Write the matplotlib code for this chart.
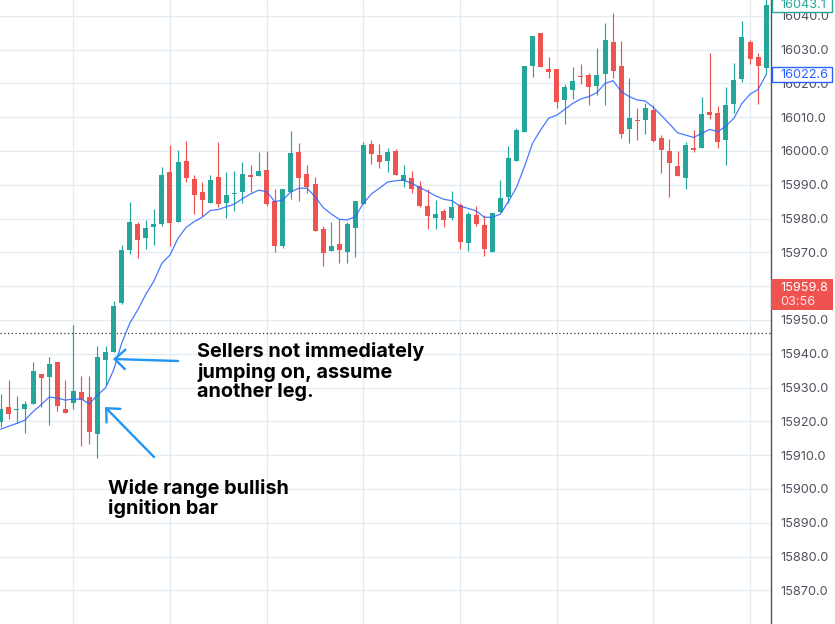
import numpy as np
import matplotlib
matplotlib.use("Agg")
import matplotlib.pyplot as plt
from matplotlib.patches import FancyBboxPatch, Rectangle

plt.rcParams['font.family'] = ['Inter', 'DejaVu Sans']

# candle values
opens = [15919.7, 15924.3, 15923.4, 15923.7, 15925.2, 15934.0, 15933.1, 15937.6, 15923.7, 15925.4,
         15928.7, 15927.2, 15916.3, 15938.2, 15940.5, 15955.0, 15970.7, 15978.4, 15974.3, 15977.5,
         15978.4, 15993.8, 15979.0, 15997.0, 15991.7, 15987.9, 15984.6, 15992.3, 15984.6, 15987.3,
         15987.9, 15992.9, 15992.6, 15994.4, 15985.2, 15971.9, 15987.9, 15999.7, 15993.2, 15990.2,
         15976.9, 15970.4, 15972.5, 15970.1, 15977.2, 15984.3, 16002.1, 15998.8, 15997.0, 16000.0,
         15991.1, 15992.0, 15989.6, 15983.7, 15980.2, 15982.3, 15980.2, 15984.0, 15972.8, 15981.1,
         15978.1, 15970.1, 15982.0, 15986.4, 15997.0, 16005.6, 16025.2, 16034.9, 16024.3, 16024.3,
         16015.1, 16018.0, 16022.2, 16022.5, 16019.2, 16022.8, 16032.2, 16025.2, 16006.5, 16009.3,
         16009.2, 16012.1, 16003.8, 16000.0, 15995.6, 15992.0, 16000.9, 16000.9, 16011.5, 16011.2,
         16003.3, 16013.9, 16021.3, 16032.2, 16027.8, 16024.6]
closes = [15923.7, 15922.2, 15923.7, 15925.2, 15934.9, 15932.8, 15937.0, 15924.6, 15922.5, 15929.0,
          15926.3, 15916.9, 15939.0, 15940.5, 15954.1, 15970.7, 15979.0, 15973.7, 15977.2, 15978.4,
          15992.9, 15978.7, 15996.7, 15992.0, 15987.0, 15985.5, 15991.4, 15984.3, 15987.0, 15987.7,
          15993.2, 15992.3, 15994.1, 15984.3, 15971.9, 15988.8, 15999.4, 15992.0, 15989.3, 15976.3,
          15969.8, 15971.9, 15970.7, 15978.4, 15985.2, 16001.8, 15999.1, 15996.7, 15999.7, 15992.9,
          15992.9, 15988.8, 15983.7, 15980.8, 15981.4, 15979.6, 15983.4, 15973.1, 15981.4, 15978.4,
          15971.0, 15981.7, 15986.1, 15997.9, 16006.2, 16025.2, 16034.0, 16024.9, 16023.4, 16014.5,
          16018.9, 16020.7, 16021.8, 16018.9, 16022.5, 16032.8, 16023.7, 16005.0, 16009.8, 16008.9,
          16012.7, 16002.9, 16000.3, 15996.4, 15992.6, 16001.8, 16000.3, 16010.9, 16010.6, 16002.7,
          16013.6, 16021.0, 16033.7, 16027.2, 16025.2, 16043.2]
highs = [15928.1, 15932.2, 15927.5, 15926.0, 15937.6, 15934.0, 15939.0, 15937.6, 15932.2, 15948.5,
         15933.4, 15933.4, 15942.3, 15942.3, 15955.6, 15972.2, 15984.9, 15979.0, 15979.6, 15982.8,
         15995.3, 16001.8, 16000.3, 16003.0, 15992.9, 15990.8, 15992.9, 16002.7, 15993.8, 15994.1,
         15996.7, 15995.9, 15999.7, 16000.0, 15988.8, 15988.8, 16005.9, 16002.4, 15995.9, 15992.3,
         15977.8, 15979.0, 15979.9, 15979.0, 15985.2, 16002.7, 16003.3, 16002.1, 16000.9, 16000.6,
         15995.9, 15994.1, 15991.1, 15988.8, 15985.5, 15982.8, 15988.2, 15984.6, 15982.0, 15983.7,
         15981.1, 15981.7, 15991.4, 16001.5, 16006.8, 16025.2, 16034.0, 16034.9, 16027.8, 16024.3,
         16019.8, 16024.9, 16025.7, 16023.1, 16030.5, 16037.9, 16040.8, 16032.5, 16021.6, 16012.7,
         16014.2, 16013.6, 16004.7, 16003.5, 16000.0, 16002.7, 16006.2, 16016.0, 16029.0, 16013.3,
         16018.9, 16026.0, 16038.5, 16032.8, 16029.0, 16046.0]
lows = [15918.4, 15920.7, 15919.4, 15916.6, 15925.2, 15924.3, 15918.9, 15923.1, 15922.5, 15923.7,
        15912.7, 15913.3, 15909.2, 15930.8, 15940.5, 15954.7, 15969.5, 15968.3, 15971.0, 15972.2,
        15977.8, 15971.9, 15979.0, 15990.8, 15981.4, 15980.8, 15984.6, 15983.4, 15980.2, 15982.2,
        15984.6, 15987.9, 15992.6, 15983.7, 15970.1, 15971.3, 15985.8, 15985.2, 15987.6, 15976.3,
        15966.0, 15970.4, 15966.9, 15966.9, 15968.6, 15984.3, 15996.2, 15995.0, 15993.8, 15992.9,
        15989.3, 15987.6, 15983.4, 15976.9, 15976.9, 15977.5, 15979.6, 15971.0, 15970.4, 15977.8,
        15968.9, 15970.1, 15982.0, 15984.6, 15997.0, 16005.6, 16021.9, 16024.9, 16021.6, 16012.7,
        16008.0, 16015.4, 16019.8, 16013.6, 16016.6, 16013.6, 16021.6, 16003.8, 16002.4, 16003.2,
        16005.0, 16002.7, 15993.5, 15986.4, 15992.6, 15988.8, 15999.7, 16000.9, 16009.5, 16000.9,
        15995.9, 16011.2, 16020.4, 16025.7, 16013.9, 16022.8]
ema = [15917.7, 15918.6, 15919.4, 15920.4, 15922.9, 15924.9, 15927.2, 15926.9, 15926.3, 15926.6,
       15926.6, 15925.2, 15927.8, 15929.9, 15935.2, 15943.1, 15949.0, 15953.0, 15957.6, 15961.5,
       15966.8, 15969.2, 15974.2, 15977.4, 15979.1, 15980.4, 15982.4, 15982.7, 15983.5, 15984.3,
       15985.9, 15987.3, 15988.4, 15988.0, 15985.0, 15985.5, 15987.9, 15989.0, 15989.0, 15986.5,
       15983.3, 15981.4, 15979.8, 15979.6, 15980.6, 15984.5, 15987.3, 15989.0, 15990.8, 15991.2,
       15991.4, 15990.4, 15989.2, 15988.0, 15986.7, 15985.7, 15985.3, 15983.7, 15983.0, 15982.3,
       15980.4, 15980.4, 15981.3, 15985.0, 15989.2, 15995.4, 16002.3, 16006.2, 16009.7, 16010.6,
       16012.3, 16014.1, 16015.4, 16016.1, 16017.3, 16020.0, 16020.8, 16017.6, 16016.1, 16015.1,
       16014.8, 16012.9, 16010.5, 16008.0, 16005.4, 16004.7, 16004.0, 16005.2, 16006.4, 16005.7,
       16007.4, 16009.7, 16014.1, 16016.8, 16018.2, 16022.6]
price_ticks = np.arange(15870, 16041, 10)
time_grid = np.arange(9, 96, 12)
prev_close_level = 15946.2

W, H = 835, 624
GREEN = '#26a69a'
RED = '#ef5350'
BLUE = '#2962ff'
ARROW = '#2196f3'
GRID = '#e3ecf3'

opens = np.array(opens)
closes = np.array(closes)
idx = np.arange(len(opens))
up = closes >= opens
colors = np.where(up, GREEN, RED)

fig = plt.figure(figsize=(W / 100, H / 100), dpi=100)
ax = fig.add_axes([0, 0, 771 / W, 1])
ax.set_xlim(-0.1, 95.6)
ax.set_ylim(15860.06, 16044.67)

# grid
ax.set_axisbelow(True)
ax.set_yticks(price_ticks)
ax.set_yticklabels([f'{p:.1f}' for p in price_ticks])
ax.set_xticks(time_grid)
ax.tick_params(axis='x', length=0, labelbottom=False)
ax.yaxis.tick_right()
ax.tick_params(axis='y', length=0, pad=6.5, labelsize=9.2, labelcolor='#50535e')
ax.grid(True, color=GRID, lw=1)
for side in ['top', 'left', 'bottom']:
    ax.spines[side].set_visible(False)
ax.spines['right'].set_color('#50535e')
ax.spines['right'].set_linewidth(1)

ax.axhline(prev_close_level, color='#333333', lw=0.9, ls=(0, (1, 2)), zorder=1.5)

# candles
ax.vlines(idx, lows, highs, colors=colors, lw=0.85, zorder=2)
ax.bar(idx, np.abs(closes - opens), bottom=np.minimum(opens, closes), width=0.62,
       color=colors, linewidth=0, zorder=3)
ax.plot(idx, ema, color=BLUE, lw=0.9, alpha=0.85, zorder=4)


def px(x, y):
    return x / W, 1 - y / H


def draw_arrow(tail, tip):
    ax.annotate('', xy=px(*tip), xytext=px(*tail), xycoords='figure fraction',
                textcoords='figure fraction',
                arrowprops=dict(arrowstyle='->,head_length=7.5,head_width=7', mutation_scale=1,
                                color=ARROW, lw=1.7, shrinkA=0, shrinkB=0), zorder=6)


draw_arrow((178, 361), (113, 359))
draw_arrow((154, 457), (105, 407))

note_style = dict(fontsize=14.3, fontweight='bold', color='black', linespacing=1.1, va='top', ha='left')
fig.text(*px(197, 342), 'Sellers not immediately\njumping on, assume\nanother leg.', **note_style)
fig.text(*px(108, 479), 'Wide range bullish\nignition bar', **note_style)


# price labels on the axis
def price_box(y0, y1, face, edge):
    box = FancyBboxPatch((772 / W, 1 - y1 / H), 60 / W, (y1 - y0) / H, boxstyle='square,pad=0',
                         transform=fig.transFigure, facecolor=face, edgecolor=edge, lw=1, zorder=5)
    fig.add_artist(box)


price_box(-3, 12, 'white', GREEN)
fig.text(*px(780, 5.5), '16043.1', color=GREEN, fontsize=9.2, va='center', zorder=6)
price_box(67, 82, 'white', BLUE)
fig.text(*px(780, 74.5), '16022.6', color=BLUE, fontsize=9.2, va='center', zorder=6)

fig.add_artist(Rectangle((771 / W, 1 - 310 / H), 62 / W, 31 / H, transform=fig.transFigure,
                         facecolor=RED, edgecolor='none', zorder=5))
fig.text(*px(780, 288), '15959.8', color='white', fontsize=9.2, va='center', zorder=6)
fig.text(*px(780, 302), '03:56', color='#fde3e3', fontsize=9.2, va='center', zorder=6)

fig.savefig('out.png', dpi=100)
